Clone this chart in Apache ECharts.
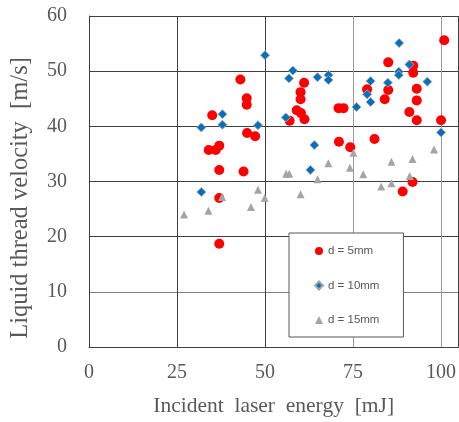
<!DOCTYPE html>
<html>
<head>
<meta charset="utf-8">
<script src="https://cdn.jsdelivr.net/npm/echarts@6/dist/echarts.min.js"></script>
<style>
  html, body { margin: 0; padding: 0; background: #fff; }
  #chart { width: 459px; height: 422px; }
</style>
</head>
<body>
<div id="chart"></div>
<script>
// d = 5mm  [energy mJ, velocity m/s]
const d5 = [
    [35.0, 42.0], [43.0, 48.5], [44.8, 45.1], [44.8, 43.9], [44.9, 38.8],
    [47.2, 38.2], [34.0, 35.7], [36.0, 35.7], [37.0, 36.5], [37.0, 32.1],
    [43.9, 31.8], [37.0, 27.0], [37.0, 18.7], [61.1, 47.9], [60.1, 46.2],
    [60.1, 44.9], [59.0, 42.9], [60.2, 42.4], [61.2, 41.3], [57.0, 41.0],
    [70.9, 43.3], [72.3, 43.3], [71.0, 37.2], [74.2, 36.2], [81.1, 37.7],
    [85.0, 51.6], [92.1, 51.0], [92.1, 49.7], [79.0, 46.7], [85.0, 46.6],
    [84.0, 44.9], [93.1, 46.8], [93.1, 44.7], [91.0, 42.6], [93.1, 41.1],
    [100.0, 41.1], [100.9, 55.6], [91.9, 29.9], [89.1, 28.2]
];
// d = 10mm
const d10 = [
    [50.0, 52.9], [37.9, 42.2], [31.9, 39.8], [37.9, 40.3], [48.0, 40.2],
    [31.9, 28.1], [57.9, 50.1], [56.8, 48.7], [64.9, 48.9], [68.0, 49.3],
    [68.0, 48.4], [55.9, 41.6], [76.0, 43.5], [64.0, 36.6], [62.9, 32.1],
    [88.1, 55.1], [91.0, 51.2], [88.0, 49.9], [88.0, 49.3], [96.1, 48.1],
    [80.0, 48.2], [84.9, 47.9], [79.0, 45.8], [80.0, 44.4], [100.0, 38.9]
];
// d = 15mm
const d15 = [
    [37.8, 27.2], [48.0, 28.5], [49.9, 27.0], [46.0, 25.4], [33.9, 24.7],
    [27.0, 24.0], [56.0, 31.4], [56.9, 31.4], [64.9, 30.4], [68.0, 33.3],
    [74.1, 32.5], [75.1, 35.2], [77.9, 31.3], [60.1, 27.7], [98.0, 35.8],
    [85.9, 33.6], [91.9, 34.1], [91.1, 31.0], [85.9, 29.7], [83.0, 29.1]
];
const seriesNames = ['d = 5mm', 'd = 10mm', 'd = 15mm'];
const xTitle = 'Incident  laser  energy  [mJ]';
const yTitle = 'Liquid thread velocity  [m/s]';

const chart = echarts.init(document.getElementById('chart'), null, {renderer: 'canvas'});

const serif = '"Liberation Serif", "DejaVu Serif", serif';
const dark = '#404040';
const light = '#999999';

const option = {
    animation: false,
    backgroundColor: '#fff',
    grid: {
        left: 88,
        top: 16,
        width: 372, // plot runs past the right edge of the picture
        height: 333,
        containLabel: false
    },
    legend: {
        orient: 'vertical',
        left: 289,
        top: 233,
        data: seriesNames,
        backgroundColor: '#fff',
        borderColor: '#595959',
        borderWidth: 1,
        padding: [12, 24, 11, 25],
        itemWidth: 8,
        itemHeight: 8,
        itemGap: 22.5,
        textStyle: {
            color: '#595959',
            fontSize: 11.5,
            fontFamily: '"Liberation Sans", Arial, sans-serif'
        }
    },
    xAxis: {
        type: 'value',
        min: 0,
        max: 104.9,
        interval: 25,
        name: xTitle,
        nameLocation: 'middle',
        nameGap: 48,
        nameTextStyle: {
            color: '#595959',
            fontSize: 21.5,
            fontFamily: serif
        },
        axisLine: {show: true, lineStyle: {color: dark, width: 1}},
        axisTick: {show: false},
        axisLabel: {
            color: '#595959',
            fontSize: 20,
            fontFamily: serif,
            margin: 16,
            showMaxLabel: false
        },
        splitLine: {show: true, lineStyle: {color: [dark, dark, dark, light, light], width: 1}}
    },
    yAxis: {
        type: 'value',
        min: 0,
        max: 60,
        interval: 10,
        name: yTitle,
        nameLocation: 'middle',
        nameGap: 56,
        nameTextStyle: {
            color: '#595959',
            fontSize: 24.5,
            fontFamily: serif,
            padding: [0, 33, 0, 0]
        },
        axisLine: {show: true, lineStyle: {color: dark, width: 1}},
        axisTick: {show: false},
        axisLabel: {
            color: '#595959',
            fontSize: 20,
            fontFamily: serif,
            margin: 22
        },
        splitLine: {show: true, lineStyle: {color: [dark, '#808080', dark, dark, dark, dark, dark], width: 1}}
    },
    series: [
        {
            name: seriesNames[0],
            type: 'scatter',
            symbol: 'circle',
            symbolSize: 10,
            itemStyle: {color: '#ff0000', opacity: 1},
            data: d5
        },
        {
            name: seriesNames[1],
            type: 'scatter',
            symbol: 'diamond',
            symbolSize: 9,
            itemStyle: {color: '#0070c0', borderColor: '#a6a6a6', borderWidth: 1, opacity: 1},
            data: d10
        },
        {
            name: seriesNames[2],
            type: 'scatter',
            symbol: 'triangle',
            symbolSize: 8,
            itemStyle: {color: '#a5a5a5', opacity: 1},
            data: d15
        }
    ]
};

chart.setOption(option);
</script>
</body>
</html>
